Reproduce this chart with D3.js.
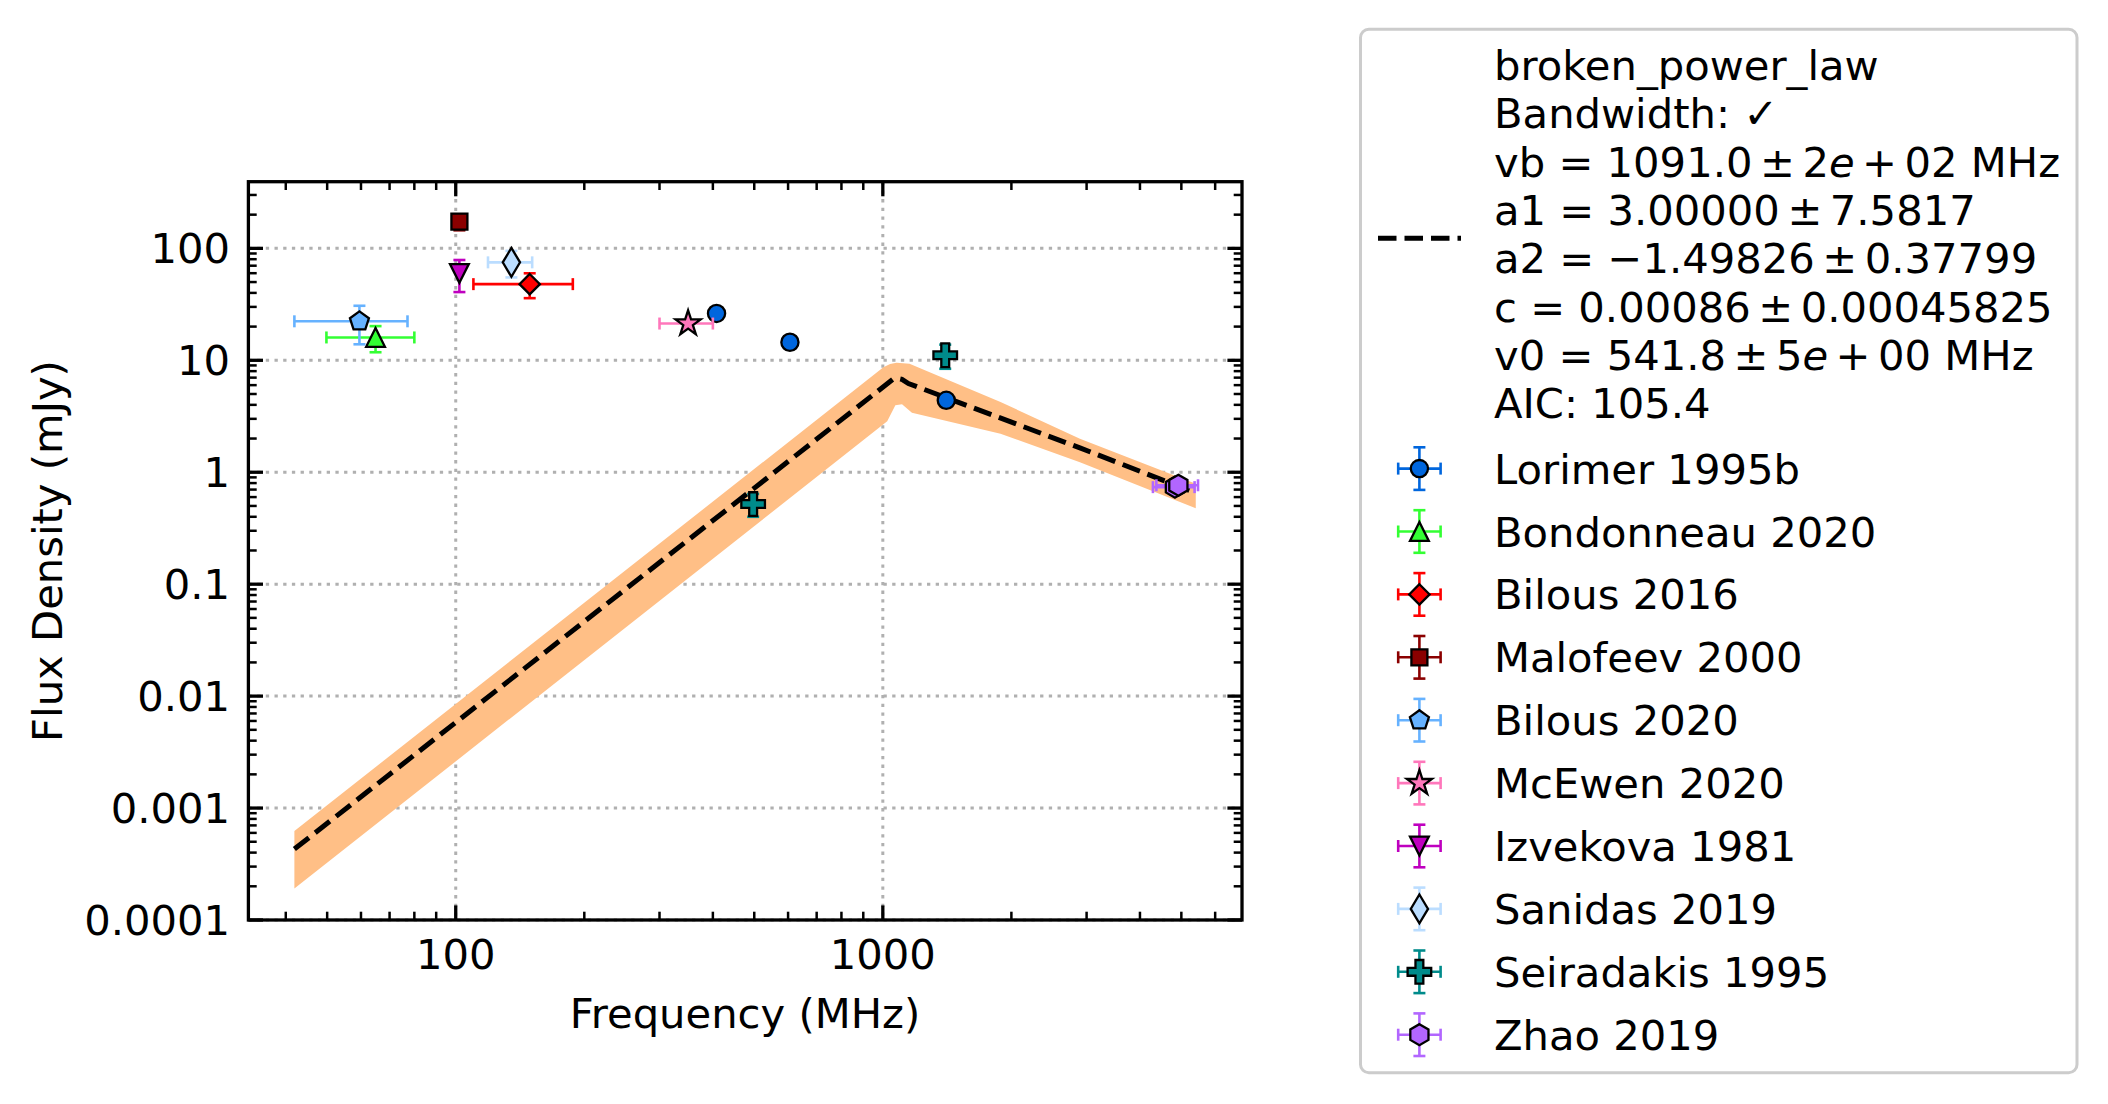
<!DOCTYPE html>
<html><head><meta charset="utf-8">
<script src="https://cdn.jsdelivr.net/npm/d3@7"></script>
<style>body{margin:0;background:#fff}svg{display:block}text{font-family:"DejaVu Sans",sans-serif;fill:#000}</style>
</head><body><svg id="chart" width="2108" height="1104"></svg>
<script>
// ---------------- DATA ----------------
// rows: [frequency MHz, flux mJy, frequency half-width, flux error]
const lorimer1995b   = [[408, 26.2, 0, 1.2], [606, 14.5, 0, 0.7], [1408, 4.39, 0, 0.2]];
const bondonneau2020 = [[64.9, 16.0, 15.1, 4.2]];
const bilous2016     = [[149, 47.9, 39, 12]];
const malofeev2000   = [[102, 173, 0, 28]];
const bilous2020     = [[59.5, 22.3, 17.6, 8.4]];
const mcewen2020     = [[350, 21.3, 50, 1.5]];
const izvekova1981   = [[102, 59.7, 0, 19]];
const sanidas2019    = [[135, 75, 16, 20]];
const seiradakis1995 = [[497, 0.52, 0, 0.12], [1400, 11.1, 0, 2.7]];
const zhao2019       = [[4830, 0.736, 540, 0.04], [4920, 0.765, 550, 0.04]];

const seriesNames = ["Lorimer 1995b", "Bondonneau 2020", "Bilous 2016", "Malofeev 2000", "Bilous 2020",
                     "McEwen 2020", "Izvekova 1981", "Sanidas 2019", "Seiradakis 1995", "Zhao 2019"];
const seriesData = [lorimer1995b, bondonneau2020, bilous2016, malofeev2000, bilous2020,
                    mcewen2020, izvekova1981, sanidas2019, seiradakis1995, zhao2019];

// fitted broken power law curve, sampled points [MHz, mJy]
const fitCurve = [[41.9, 0.00043], [1061, 6.87], [1090, 6.85], [1109, 6.75], [1148, 6.2], [2894, 1.65], [5293, 0.673]];
// uncertainty envelope
const bandUpper = [[41.9, 0.000624], [1003, 8.65], [1040, 9.25], [1077, 9.5], [1155, 9.3], [1231, 8.4],
                   [1886, 4.24], [2894, 1.99], [5404, 0.789]];
const bandLower = [[5404, 0.477], [2894, 1.23], [1886, 2.21], [1170, 3.4], [1109, 4.05], [1070, 3.96],
                   [1024, 2.85], [41.9, 0.000191]];

const xTickValues = [100, 1000];
const xTickLabels = ["100", "1000"];
const yTickValues = [1e-4, 1e-3, 1e-2, 1e-1, 1, 10, 100];
const yTickLabels = ["0.0001", "0.001", "0.01", "0.1", "1", "10", "100"];

const fitLegendLines = ["broken_power_law", "Bandwidth: \u2713", "vb = 1091.0 ± 2e + 02 MHz",
  "a1 = 3.00000 ± 7.5817", "a2 = \u22121.49826 ± 0.37799", "c = 0.00086 ± 0.00045825",
  "v0 = 541.8 ± 5e + 00 MHz", "AIC: 105.4"];

// ---------------- STYLE ----------------
const seriesStyle = [
  {c: "#0066dd", m: "o"}, {c: "#33ff33", m: "^"}, {c: "#ff0000", m: "D"}, {c: "#8b0000", m: "s"},
  {c: "#66b2ff", m: "p"}, {c: "#ff77bb", m: "*"}, {c: "#bf00bf", m: "v"}, {c: "#bbddff", m: "d"},
  {c: "#008b8b", m: "P"}, {c: "#b266ff", m: "h"}];

const FS = 41.7;
const svg = d3.select("#chart");
svg.append("rect").attr("width", 2108).attr("height", 1104).attr("fill", "#fff");

const L = 248.4, R = 1242, T = 181.7, B = 920;
const x = d3.scaleLog().domain([32.7, 6934]).range([L, R]);
const y = d3.scaleLog().domain([1e-4, 394]).range([B, T]);

function markerPath(m) {
  const pts = (n, r, off) => d3.range(n).map(k => {
    const a = (off + k * 360 / n) * Math.PI / 180; return [r * Math.cos(a), r * Math.sin(a)]; });
  const poly = p => "M" + p.map(q => q[0].toFixed(2) + "," + q[1].toFixed(2)).join("L") + "Z";
  switch (m) {
    case "o": { const r = 8.6; return `M${r},0A${r},${r} 0 1,1 ${-r},0A${r},${r} 0 1,1 ${r},0Z`; }
    case "s": { const a = 8.0; return poly([[-a,-a],[a,-a],[a,a],[-a,a]]); }
    case "^": { const a = 9.4; return poly([[0,-a],[a,a],[-a,a]]); }
    case "v": { const a = 9.4; return poly([[0,a],[a,-a],[-a,-a]]); }
    case "D": { const a = 10.2; return poly([[0,-a],[a,0],[0,a],[-a,0]]); }
    case "d": { const a = 14.4; return poly([[0,-a],[a*0.6,0],[0,a],[-a*0.6,0]]); }
    case "p": return poly(pts(5, 10, -90));
    case "h": return poly(pts(6, 10.5, -90));
    case "*": { const o = pts(5, 13.2, -90), i = pts(5, 13.2*0.381966, -54);
      const p = []; for (let k = 0; k < 5; k++) { p.push(o[k]); p.push(i[k]); } return poly(p); }
    case "P": { const a = 11.8, b = a / 3;
      return poly([[-b,-a],[b,-a],[b,-b],[a,-b],[a,b],[b,b],[b,a],[-b,a],[-b,b],[-a,b],[-a,-b],[-b,-b]]); }
  }
}

// ---------- grid ----------
const grid = svg.append("g").attr("stroke", "#b0b0b0").attr("stroke-width", 3).attr("stroke-dasharray", "3.3,5.4");
xTickValues.forEach(v => grid.append("line").attr("x1", x(v)).attr("x2", x(v)).attr("y1", T).attr("y2", B));
yTickValues.forEach(v => grid.append("line").attr("x1", L).attr("x2", R).attr("y1", y(v)).attr("y2", y(v)));

// ---------- band & fit ----------
const plot = svg.append("g");
const ln = d3.line().x(d => x(d[0])).y(d => y(d[1]));
plot.append("path").attr("d", ln(bandUpper.concat(bandLower)) + "Z").attr("fill", "#ffbf86").attr("stroke", "none");
plot.append("path").attr("d", ln(fitCurve)).attr("fill", "none").attr("stroke", "#000")
  .attr("stroke-width", 5).attr("stroke-dasharray", "18.5,8");

// ---------- error bars & markers ----------
const CAP = 6, ELW = 2.6;
function errorbar(g, cx, cy, x0, x1, y0, y1, color) {
  if (x0 !== null) {
    g.append("line").attr("x1", x0).attr("x2", x1).attr("y1", cy).attr("y2", cy).attr("stroke", color).attr("stroke-width", ELW);
    [x0, x1].forEach(xx => g.append("line").attr("x1", xx).attr("x2", xx).attr("y1", cy - CAP).attr("y2", cy + CAP).attr("stroke", color).attr("stroke-width", ELW));
  }
  if (y0 !== null) {
    g.append("line").attr("x1", cx).attr("x2", cx).attr("y1", y0).attr("y2", y1).attr("stroke", color).attr("stroke-width", ELW);
    [y0, y1].forEach(yy => g.append("line").attr("x1", cx - CAP).attr("x2", cx + CAP).attr("y1", yy).attr("y2", yy).attr("stroke", color).attr("stroke-width", ELW));
  }
}
seriesData.forEach((rows, si) => {
  const st = seriesStyle[si];
  const g = plot.append("g");
  rows.forEach(r => {
    const cx = x(r[0]), cy = y(r[1]);
    errorbar(g, cx, cy,
      r[2] > 0 ? x(r[0] - r[2]) : null, r[2] > 0 ? x(r[0] + r[2]) : null,
      r[3] > 0 ? y(r[1] - r[3]) : null, r[3] > 0 ? y(r[1] + r[3]) : null, st.c);
  });
  rows.forEach(r => {
    g.append("path").attr("d", markerPath(st.m)).attr("transform", `translate(${x(r[0])},${y(r[1])})`)
      .attr("fill", st.c).attr("stroke", "#000").attr("stroke-width", 2.3).attr("stroke-linejoin", "miter");
  });
});

// ---------- axes frame & ticks ----------
const ax = svg.append("g").attr("stroke", "#000");
const majX = new Set(xTickValues), majY = new Set(yTickValues.map(v => +v.toPrecision(3)));
x.ticks().forEach(v => {
  const maj = majX.has(+v.toPrecision(3)); const len = maj ? 14.6 : 8.3, w = maj ? 3.3 : 2.5;
  ax.append("line").attr("x1", x(v)).attr("x2", x(v)).attr("y1", B).attr("y2", B - len).attr("stroke-width", w);
  ax.append("line").attr("x1", x(v)).attr("x2", x(v)).attr("y1", T).attr("y2", T + len).attr("stroke-width", w);
});
y.ticks().forEach(v => {
  const maj = majY.has(+v.toPrecision(3)); const len = maj ? 14.6 : 8.3, w = maj ? 3.3 : 2.5;
  ax.append("line").attr("y1", y(v)).attr("y2", y(v)).attr("x1", L).attr("x2", L + len).attr("stroke-width", w);
  ax.append("line").attr("y1", y(v)).attr("y2", y(v)).attr("x1", R).attr("x2", R - len).attr("stroke-width", w);
});
svg.append("rect").attr("x", L).attr("y", T).attr("width", R - L).attr("height", B - T)
  .attr("fill", "none").attr("stroke", "#000").attr("stroke-width", 3.3);

// tick labels
xTickValues.forEach((v, i) => svg.append("text").attr("x", x(v)).attr("y", 969).attr("text-anchor", "middle")
  .attr("font-size", FS).text(xTickLabels[i]));
yTickValues.forEach((v, i) => svg.append("text").attr("x", 230).attr("y", y(v) + 15).attr("text-anchor", "end")
  .attr("font-size", FS).text(yTickLabels[i]));
svg.append("text").attr("x", 745).attr("y", 1028).attr("text-anchor", "middle").attr("font-size", FS).text("Frequency (MHz)");
svg.append("text").attr("transform", "translate(62,551) rotate(-90)").attr("text-anchor", "middle")
  .attr("font-size", FS).text("Flux Density (mJy)");

// ---------- legend ----------
const lg = svg.append("g");
lg.append("rect").attr("x", 1360.5).attr("y", 29.3).attr("width", 716.5).attr("height", 1043.4).attr("rx", 8.3)
  .attr("fill", "#fff").attr("stroke", "#cccccc").attr("stroke-width", 3);
lg.append("line").attr("x1", 1378).attr("x2", 1461).attr("y1", 238.3).attr("y2", 238.3)
  .attr("stroke", "#000").attr("stroke-width", 5).attr("stroke-dasharray", "18.5,8");
const TX = 1494;
fitLegendLines.forEach((line, i) => {
  const t = lg.append("text").attr("x", TX).attr("y", 80 + 48.35 * i).attr("font-size", FS);
  const parts = line.split(/( ± | \+ )/);
  let pad = false;
  parts.forEach(p => {
    if (p === " ± " || p === " + ") {
      t.append("tspan").attr("dx", "0.18em").text(p.trim()); pad = true; return;
    }
    let main = p, ital = null;
    if (/\de$/.test(p)) { main = p.slice(0, -1); ital = "e"; }
    const ts = t.append("tspan").text(main); if (pad) ts.attr("dx", "0.18em");
    if (ital) t.append("tspan").attr("font-style", "italic").text(ital);
    pad = false;
  });
});
seriesNames.forEach((name, i) => {
  const st = seriesStyle[i];
  const cy = 468.6 + 62.9 * i, cx = 1419.4;
  const g = lg.append("g");
  errorbar(g, cx, cy, cx - 21.2, cx + 21.2, cy - 21.3, cy + 21.3, st.c);
  g.append("path").attr("d", markerPath(st.m)).attr("transform", `translate(${cx},${cy})`)
    .attr("fill", st.c).attr("stroke", "#000").attr("stroke-width", 2.3);
  lg.append("text").attr("x", TX).attr("y", cy + 15).attr("font-size", FS).text(name);
});
</script></body></html>
